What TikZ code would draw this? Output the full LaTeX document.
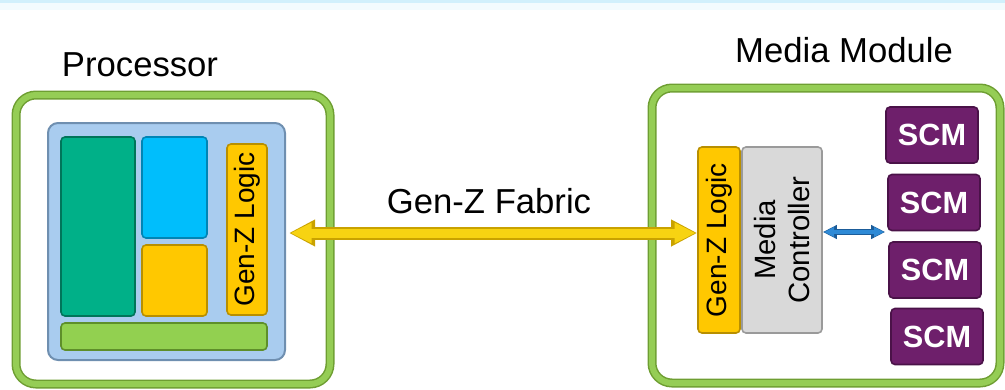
\documentclass[tikz,border=0pt]{standalone}
\usepackage{fontspec}
\setmainfont{Liberation Sans}
\usetikzlibrary{fit,arrows.meta,calc}

\definecolor{grmain}{HTML}{95CD55}
\definecolor{grdark}{HTML}{6E9E32}
\definecolor{panelfill}{HTML}{A9CCEF}
\definecolor{paneldraw}{HTML}{6F8FB0}
\definecolor{tealfill}{HTML}{00B088}
\definecolor{tealdraw}{HTML}{00755A}
\definecolor{skyfill}{HTML}{00BEFC}
\definecolor{skydraw}{HTML}{0085B5}
\definecolor{goldfill}{HTML}{FFC800}
\definecolor{golddraw}{HTML}{B88F00}
\definecolor{barfill}{HTML}{92D050}
\definecolor{bardraw}{HTML}{5E8F2A}
\definecolor{mcfill}{HTML}{D9D9D9}
\definecolor{mcdraw}{HTML}{9A9A9A}
\definecolor{scmfill}{HTML}{6E1F6B}
\definecolor{scmdraw}{HTML}{4A1248}
\definecolor{fabfill}{HTML}{F7D312}
\definecolor{fabdraw}{HTML}{C9A200}
\definecolor{linkfill}{HTML}{2E8AD6}
\definecolor{linkdraw}{HTML}{1B5C99}

\begin{document}
\begin{tikzpicture}[x=0.75pt,y=-0.75pt,
  modbox/.style={draw=grdark, double=grmain, line width=1.5*0.75pt,
    double distance=6*0.75pt, rounded corners=20*0.75pt, inner sep=0pt},
  panel/.style={fill=panelfill, draw=paneldraw, line width=1.5pt,
    rounded corners=10*0.75pt, inner sep=0pt},
  blk/.style={line width=1.2pt, rounded corners=4*0.75pt, inner sep=0pt},
  vtext/.style={rotate=90, inner sep=0pt, font=\fontsize{21}{24}\selectfont},
  scm/.style={blk, fill=scmfill, draw=scmdraw, text=white,
    minimum width=92*0.75pt, minimum height=56*0.75pt,
    font=\bfseries\fontsize{23}{26}\selectfont},
  title/.style={font=\fontsize{26}{30}\selectfont, inner sep=0pt}
]
\useasboundingbox (0,0) rectangle (1005,389);
\fill[cyan!18] (0,0) rectangle (1005,2.5);
\fill[cyan!5] (0,2.5) rectangle (1005,10);

% Processor
\node[title] (ptitle) at (140,65) {Processor};
\node[modbox, fit={(16,95)(330,384)}] (proc) {};
\node[panel, fit={(48,123)(285,360)}] (cpu) {};
\node[blk, fill=tealfill, draw=tealdraw, fit={(61,137)(135,316)}] (core) {};
\node[blk, fill=skyfill, draw=skydraw, fit={(142,137)(207,238)}] (cache) {};
\node[blk, fill=goldfill, draw=golddraw, fit={(142,245)(207,316)}] (accel) {};
\node[blk, vtext, fill=goldfill, draw=golddraw,
  minimum width=171*0.75pt, minimum height=40*0.75pt] (pgz) at (247,229.5) {Gen-Z Logic};
\node[blk, fill=barfill, draw=bardraw, fit={(61,323)(267,350)}] (bus) {};

% Media module
\node[title] (mtitle) at (844,50) {Media Module};
\node[modbox, fit={(652,88)(1000,383)}] (media) {};
\node[blk, vtext, fill=goldfill, draw=golddraw,
  minimum width=186*0.75pt, minimum height=42*0.75pt] (rgz) at (719,240) {Gen-Z Logic};
\node[blk, vtext, fill=mcfill, draw=mcdraw, align=center,
  font=\fontsize{22}{25.5}\selectfont,
  minimum width=186*0.75pt, minimum height=80*0.75pt] (mc) at (782,240) {Media\\Controller};
\node[scm] (scm1) at (932,135) {SCM};
\node[scm] (scm2) at (934,202.5) {SCM};
\node[scm] (scm3) at (935,270) {SCM};
\node[scm] (scm4) at (937,336.5) {SCM};

% Gen-Z fabric link
\node[title] (fabric) at (489,201) {Gen-Z Fabric};
\coordinate (fabL) at ($(cpu.east)+(3,-8.5)$);
\coordinate (fabR) at (fabL -| rgz.north);
\draw[fabdraw, line width=13*0.75pt,
  {Triangle[width=25*0.75pt,length=26*0.75pt]}-{Triangle[width=25*0.75pt,length=26*0.75pt]}]
  (fabL) -- (fabR);
\draw[fabfill, line width=9*0.75pt,
  {Triangle[width=19*0.75pt,length=21*0.75pt]}-{Triangle[width=19*0.75pt,length=21*0.75pt]}]
  ($(fabL)+(1.5,0)$) -- ($(fabR)+(-1.5,0)$);

% controller to memory link
\coordinate (mcL) at ($(mc.south)+(0,-8)$);
\coordinate (mcR) at ($(mcL -| scm2.west)+(-2,0)$);
\draw[linkdraw, line width=6*0.75pt,
  {Triangle[width=13*0.75pt,length=14*0.75pt]}-{Triangle[width=13*0.75pt,length=14*0.75pt]}]
  (mcL) -- (mcR);
\draw[linkfill, line width=3.5*0.75pt,
  {Triangle[width=9*0.75pt,length=10*0.75pt]}-{Triangle[width=9*0.75pt,length=10*0.75pt]}]
  ($(mcL)+(1.2,0)$) -- ($(mcR)+(-1.2,0)$);
\end{tikzpicture}
\end{document}
